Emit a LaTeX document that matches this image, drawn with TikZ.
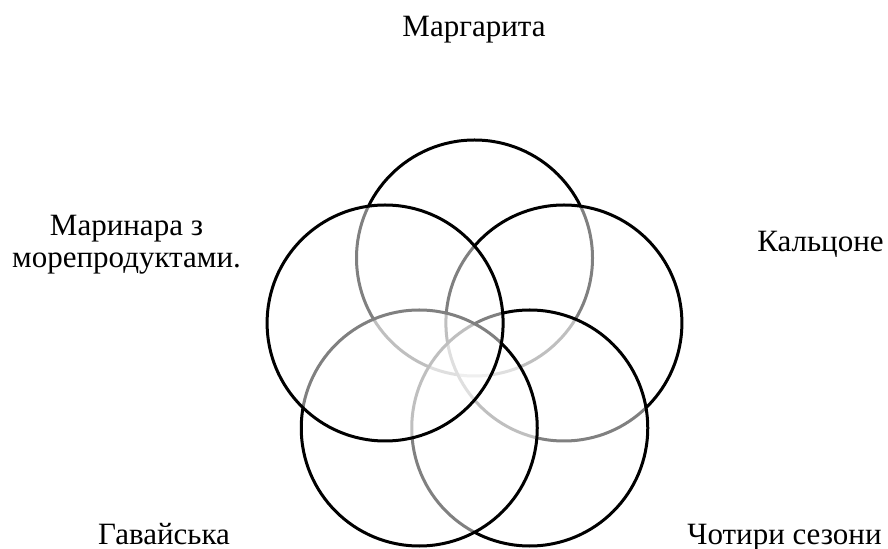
\documentclass[tikz,border=0pt]{standalone}
\usepackage{fontspec}
\setmainfont{Liberation Serif}
\begin{document}
\begin{tikzpicture}[x=0.5pt,y=-0.5pt,
  ring/.style={circle,draw=black,line width=1.5pt,fill=white,fill opacity=0.5,draw opacity=1,minimum size=118pt,inner sep=0pt},
  lbl/.style={anchor=base,inner sep=0pt,font=\fontsize{15.5}{16}\selectfont,align=center}]
\useasboundingbox (0,0) rectangle (888,549);
\node[ring] (c1) at (474.5,258) {};
\node[ring] (c2) at (563.9,323) {};
\node[ring] (c3) at (529.75,428) {};
\node[ring] (c4) at (419.25,428) {};
\node[ring] (c5) at (385.1,323) {};
\node[lbl] (l1) at (474,37) {Маргарита};
\node[lbl] (l5a) at (126.5,236) {Маринара з};
\node[lbl] (l5b) at (126.5,268) {морепродуктами.};
\node[lbl] (l2) at (820.5,252) {Кальцоне};
\node[lbl] (l4) at (164,545) {Гавайська};
\node[lbl] (l3) at (784.5,545) {Чотири сезони};
\end{tikzpicture}
\end{document}
